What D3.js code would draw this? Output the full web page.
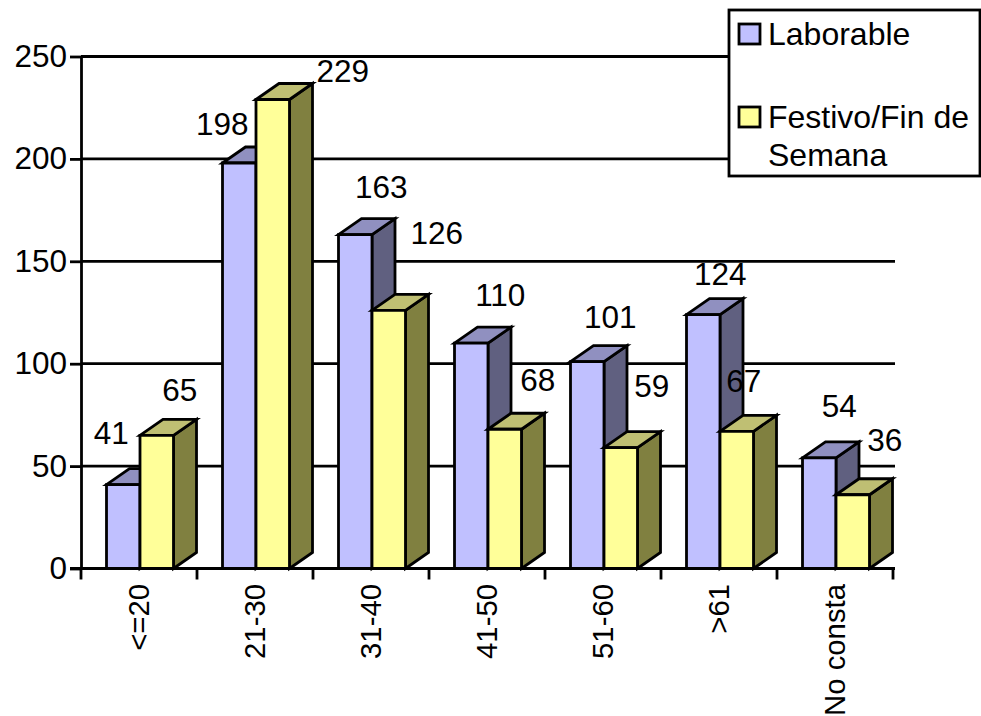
<!DOCTYPE html>
<html><head><meta charset="utf-8">
<script src="https://cdn.jsdelivr.net/npm/d3@7"></script>
<style>html,body{margin:0;padding:0;background:#fff}svg{display:block}text{font-family:"Liberation Sans",Arial,sans-serif;fill:#000}</style>
</head><body>
<svg id="c" width="981" height="716"></svg>
<script>
const categories = ["<=20","21-30","31-40","41-50","51-60",">61","No consta"];
const laborable = [41,198,163,110,101,124,54];
const festivo = [65,229,126,68,59,67,36];
const yTicks = [0,50,100,150,200,250];
const seriesNames = ["Laborable","Festivo/Fin de Semana"];

// label offsets from each bar's top-centre (layout only)
const nudgeLab = [[-12,-52],[-17,-39],[26,-48],[29,-48],[23,-45],[17,-41],[20,-52]];
const nudgeFes = [[23,-45],[70,-29],[48,-77],[33,-49],[31,-62],[7,-50],[32,-55]];

const svg = d3.select("#c");
const fs = 31.5, sw = 2.8, depthX = 23, depthY = 16;
const x = d3.scaleBand().domain(categories).range([81,893]).padding(0);
const y = d3.scaleLinear().domain([0,250]).range([568.5,56.5]);
const barW = 33.5, inset = 25.5;

// gridlines
svg.append("g").selectAll("line").data(yTicks.slice(1)).join("line")
  .attr("x1",81).attr("x2",895).attr("y1",d=>y(d)).attr("y2",d=>y(d))
  .attr("stroke","#000").attr("stroke-width",sw);

// bars
const styles = [
  {front:"#C0C0FF",top:"#9090C0",side:"#606080",vals:laborable,off:0},
  {front:"#FFFF99",top:"#BFBF73",side:"#808040",vals:festivo,off:barW}
];
const poly = (g,pts,fill)=>g.append("polygon").attr("points",pts.map(p=>p.join(",")).join(" "))
  .attr("fill",fill).attr("stroke","#000").attr("stroke-width",sw).attr("stroke-linejoin","miter");
categories.forEach((c,i)=>{
  styles.forEach(s=>{
    const g = svg.append("g");
    const l = x(c)+inset+s.off, r = l+barW, t = y(s.vals[i]), b = y(0);
    poly(g,[[r,t],[r+depthX,t-depthY],[r+depthX,b-depthY],[r,b]],s.side);
    poly(g,[[l,t],[l+depthX,t-depthY],[r+depthX,t-depthY],[r,t]],s.top);
    poly(g,[[l,t],[r,t],[r,b],[l,b]],s.front);
  });
});

// axes
const yAxis = d3.axisLeft(y).tickValues(yTicks).tickSize(11).tickPadding(3).tickSizeOuter(0);
const ay = svg.append("g").attr("transform","translate(81,0)").call(yAxis);
ay.select(".domain").attr("stroke","#000").attr("stroke-width",sw);
ay.selectAll("line").attr("stroke","#000").attr("stroke-width",sw);
ay.selectAll("text").attr("font-size",fs).style("font-family",'"Liberation Sans"');

const edges = categories.map(c=>x(c)).concat([x.range()[1]]);
const ax = svg.append("g");
ax.append("line").attr("x1",70).attr("x2",895).attr("y1",y(0)).attr("y2",y(0)).attr("stroke","#000").attr("stroke-width",sw+.4);
ax.selectAll("line.t").data(edges).join("line").attr("class","t")
  .attr("x1",d=>d).attr("x2",d=>d).attr("y1",y(0)).attr("y2",y(0)+11).attr("stroke","#000").attr("stroke-width",sw);
ax.selectAll("text").data(categories).join("text")
  .attr("transform",d=>`translate(${x(d)+x.bandwidth()/2+10},584) rotate(-90)`)
  .attr("text-anchor","end").attr("font-size",29.3).text(d=>d);

// value labels
const labels = [];
categories.forEach((c,i)=>{
  labels.push({v:laborable[i],cx:x(c)+inset+barW/2+nudgeLab[i][0],cy:y(laborable[i])+nudgeLab[i][1]});
  labels.push({v:festivo[i],cx:x(c)+inset+barW*1.5+nudgeFes[i][0],cy:y(festivo[i])+nudgeFes[i][1]});
});
svg.append("g").selectAll("text").data(labels).join("text")
  .attr("x",d=>d.cx).attr("y",d=>d.cy).attr("text-anchor","middle").attr("dominant-baseline","central")
  .attr("font-size",fs).text(d=>d.v);

// legend
const leg = svg.append("g");
leg.append("rect").attr("x",729).attr("y",10).attr("width",251).attr("height",166).attr("fill","#fff").attr("stroke","#000").attr("stroke-width",sw);
[[24,styles[0].front],[107,styles[1].front]].forEach(([yy,f])=>{
  leg.append("rect").attr("x",739).attr("y",yy).attr("width",21).attr("height",20).attr("fill",f).attr("stroke","#000").attr("stroke-width",sw);
});
const fw = seriesNames[1].split(" ");
const legLines = [[seriesNames[0],45],[fw.slice(0,2).join(" "),128],[fw[2],166]];
leg.selectAll("text").data(legLines).join("text").attr("x",768).attr("y",d=>d[1]).attr("font-size",32).text(d=>d[0]);
</script>
</body></html>
